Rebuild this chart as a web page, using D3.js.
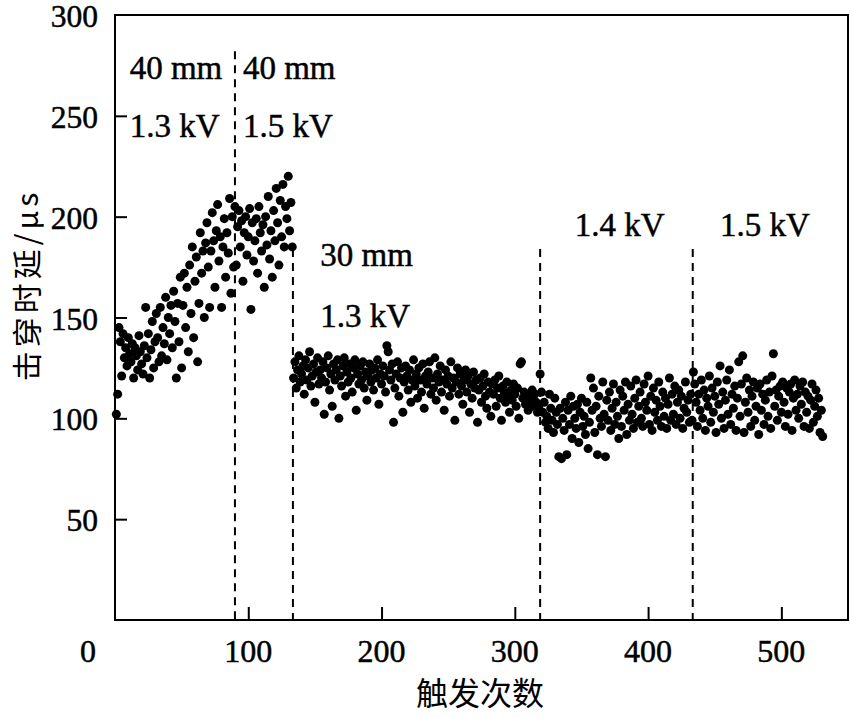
<!DOCTYPE html>
<html>
<head>
<meta charset="utf-8">
<script src="https://cdn.jsdelivr.net/npm/d3@7"></script>
<style>
  html, body { margin: 0; padding: 0; background: #fff; }
  svg { display: block; }
</style>
</head>
<body>
<svg id="chart" width="850" height="718"></svg>
<script>
// ---------------- DATA ----------------
const xTicks = [100, 200, 300, 400, 500];
const yTicks = [50, 100, 150, 200, 250];
const xTitle = "触发次数";
const yTitle = "击穿时延/μs";

// segment start trigger numbers (points are consecutive triggers)
const segmentStarts = [1, 90, 134, 319, 434];

// 40 mm, 1.3 kV
const delayA = [
  102,112,145,138,121,142,130,135,126,140,
  132,128,137,120,135,131,124,141,133,127,
  122,136,155,130,142,120,134,148,125,138,
  152,140,128,155,131,145,137,160,129,150,
  142,156,135,163,148,120,157,138,170,125,
  156,172,145,165,133,176,152,185,140,168,
  180,128,157,192,172,183,150,187,197,175,
  155,183,202,188,165,193,206,178,190,155,
  185,199,170,192,182,209,162,200,175
];
// 40 mm, 1.5 kV
const delayB = [
  205,176,195,203,185,198,168,192,200,181,
  190,204,154,197,178,188,199,172,205,192,
  183,196,165,200,186,210,179,193,170,203,
  188,214,197,176,208,190,216,185,205,199,
  220,193,207,185
];
// 30 mm, 1.3 kV
const delayC = [
  120,128,115,124,131,118,122,126,112,129,
  119,125,133,116,121,127,108,123,130,117,
  124,120,128,102,118,125,131,114,122,106,
  127,119,124,129,100,121,116,126,130,111,
  123,118,127,120,113,125,129,104,122,117,
  126,119,128,115,123,109,121,127,118,124,
  114,125,120,129,107,122,117,126,121,113,
  136,133,124,119,127,98,115,122,128,111,
  120,125,103,118,126,121,114,124,108,119,
  129,116,122,110,125,119,113,127,105,121,
  117,123,128,112,120,115,130,109,122,118,
  126,113,119,104,124,117,121,111,128,115,
  120,99,118,125,112,122,116,107,119,124,
  113,121,103,117,110,123,115,119,98,114,
  120,108,116,122,111,105,118,113,101,117,
  112,119,106,115,121,110,99,116,113,108,
  118,111,103,114,109,117,112,106,115,100,
  127,128,110,113,107,112,104,111,109,114,
  106,112,108,103,105
];
// 30 mm, 1.4 kV
const delayD = [
  122,113,103,108,98,101,95,112,105,99,
  93,110,103,97,81,105,80,100,94,108,
  82,104,97,111,90,106,100,95,107,88,
  103,110,96,101,92,108,85,98,120,104,
  115,93,106,82,111,100,96,118,102,81,
  109,99,113,94,105,117,97,108,101,90,
  114,96,111,104,118,92,107,99,116,102,
  95,110,119,98,106,113,100,96,117,108,
  104,121,97,111,94,115,103,109,99,118,
  106,96,113,101,110,95,107,120,99,112,
  102,116,97,108,114,100,111,95,105,118,
  103,109,98,112,99
];
// 30 mm, 1.5 kV
const delayE = [
  123,117,108,96,112,104,119,100,114,94,
  110,106,121,98,115,103,111,93,118,107,
  126,100,113,95,109,119,102,124,97,112,
  105,116,94,110,128,101,117,131,93,108,
  120,103,114,96,111,118,99,106,115,92,
  117,104,112,97,109,119,101,113,95,121,
  132,106,114,99,111,116,103,118,108,96,
  115,102,113,117,94,110,119,104,112,
  100,116,107,118,96,113,103,111,95,
  109,117,98,106,114,101,110,93,104,91
];

// boundaries (trigger number) and dashed line top values
const dividers = [90, 133.5, 319, 433.5];
const dividerTops = [282, 184, 184, 184];

// annotation texts with anchor (trigger, delay)
const notes = [
  { text: "40 mm",  x: 11,  y: 269 },
  { text: "1.3 kV", x: 11,  y: 240 },
  { text: "40 mm",  x: 96,  y: 269 },
  { text: "1.5 kV", x: 96,  y: 240 },
  { text: "30 mm",  x: 154, y: 176 },
  { text: "1.3 kV", x: 154, y: 146 },
  { text: "1.4 kV", x: 345, y: 191 },
  { text: "1.5 kV", x: 454, y: 191 }
];

// ---------------- CHART ----------------
(function () {
const svg = d3.select("#chart");
const mLeft = 115, mRight = 848, mTop = 15, mBottom = 620;

const x = d3.scaleLinear().domain([0, 550]).range([mLeft, mRight]);
const y = d3.scaleLinear().domain([0, 300]).range([mBottom, mTop]);

const serif = "'Liberation Serif', 'Times New Roman', serif";
const cjk = "'Noto Sans CJK SC', 'Noto Sans CJK JP', sans-serif";

const series = [delayA, delayB, delayC, delayD, delayE];
const points = [];
series.forEach((arr, s) => {
  arr.forEach((v, i) => points.push({ t: segmentStarts[s] + i, v }));
});

// dashed dividers
svg.append("g").selectAll("line").data(dividers).join("line")
  .attr("x1", d => x(d)).attr("x2", d => x(d))
  .attr("y1", (d, i) => y(dividerTops[i])).attr("y2", mBottom)
  .attr("stroke", "#000").attr("stroke-width", 2)
  .attr("stroke-dasharray", "8,6");

// points
svg.append("g").selectAll("circle").data(points).join("circle")
  .attr("cx", d => x(d.t)).attr("cy", d => y(d.v))
  .attr("r", 4.5).attr("fill", "#000");

// axes (ticks inward)
const xAxis = d3.axisBottom(x).tickValues(xTicks).tickSize(-13).tickFormat("");
const yAxis = d3.axisLeft(y).tickValues(yTicks).tickSize(-12).tickFormat("");
const gx = svg.append("g").attr("transform", `translate(0,${mBottom})`).call(xAxis);
const gy = svg.append("g").attr("transform", `translate(${mLeft},0)`).call(yAxis);
[gx, gy].forEach(g => {
  g.select(".domain").remove();
  g.selectAll(".tick line").attr("stroke", "#000").attr("stroke-width", 2);
});

// frame
svg.append("rect")
  .attr("x", mLeft).attr("y", mTop)
  .attr("width", mRight - mLeft).attr("height", mBottom - mTop)
  .attr("fill", "none").attr("stroke", "#000").attr("stroke-width", 2);

function heavy(sel) {
  return sel.attr("fill", "#000").attr("stroke", "#000").attr("stroke-width", 0.5);
}

// tick labels
heavy(svg.append("g").selectAll("text").data(xTicks).join("text")
  .attr("x", d => x(d)).attr("y", 662)
  .attr("text-anchor", "middle")
  .attr("font-family", serif).attr("font-size", 32)
  .text(d => d));
heavy(svg.append("text")
  .attr("x", x(0) - 27).attr("y", 662)
  .attr("text-anchor", "middle")
  .attr("font-family", serif).attr("font-size", 32)
  .text("0"));
heavy(svg.append("g").selectAll("text").data(yTicks.concat([300])).join("text")
  .attr("x", 98).attr("y", d => y(d) + 12)
  .attr("text-anchor", "end")
  .attr("font-family", serif).attr("font-size", 31.5)
  .text(d => d));

// annotations
heavy(svg.append("g").selectAll("text").data(notes).join("text")
  .attr("x", d => x(d.x)).attr("y", d => y(d.y) + 1)
  .attr("font-family", serif).attr("font-size", 33)
  .text(d => d.text));

// axis titles
svg.append("text")
  .attr("x", 480).attr("y", 705)
  .attr("text-anchor", "middle")
  .attr("font-family", cjk).attr("font-size", 32)
  .text(xTitle);
svg.append("text")
  .attr("transform", `translate(38,${285}) rotate(-90)`)
  .attr("text-anchor", "middle")
  .attr("font-family", cjk).attr("font-size", 30)
  .attr("letter-spacing", 4)
  .text(yTitle);
})();
</script>
</body>
</html>
